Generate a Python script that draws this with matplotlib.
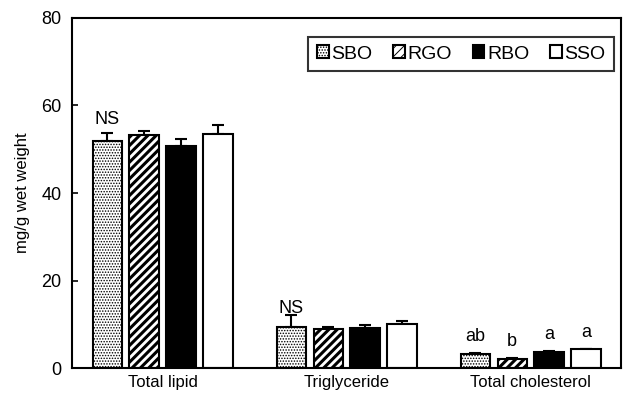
import numpy as np
import matplotlib.pyplot as plt

plt.rcParams['font.family'] = ['Liberation Sans', 'DejaVu Sans']

categories = ['Total lipid', 'Triglyceride', 'Total cholesterol']
groups = ['SBO', 'RGO', 'RBO', 'SSO']
means = {
    'SBO': [51.9, 9.4, 3.2],
    'RGO': [53.3, 8.9, 2.1],
    'RBO': [50.7, 9.1, 3.7],
    'SSO': [53.5, 10.1, 4.3],
}
errs = {
    'SBO': [1.7, 2.7, 0.3],
    'RGO': [0.9, 0.5, 0.2],
    'RBO': [1.6, 0.7, 0.3],
    'SSO': [2.0, 0.6, 0.2],
}
# significance letters above each bar
letters = {
    'SBO': ['NS', 'NS', 'ab'],
    'RGO': ['', '', 'b'],
    'RBO': ['', '', 'a'],
    'SSO': ['', '', 'a'],
}
letter_gap = [1.3, -0.3, 1.8]

styles = {
    'SBO': dict(color='white', hatch='......'),
    'RGO': dict(color='white', hatch='////'),
    'RBO': dict(color='black', hatch=None),
    'SSO': dict(color='white', hatch=None),
}

fig = plt.figure(figsize=(6.24, 3.96), dpi=100)
ax = fig.add_axes([0.116, 0.07, 0.879, 0.885])

x = np.arange(len(categories))
offsets = [-0.3, -0.1, 0.1, 0.3]
w = 0.16

for g, off in zip(groups, offsets):
    st = styles[g]
    plt.rcParams['hatch.linewidth'] = 2.2 if g == 'RGO' else 0.7
    ax.bar(x + off, means[g], w, color=st['color'], edgecolor='black',
           linewidth=1.5, hatch=st['hatch'], label=g, zorder=2)
    ax.errorbar(x + off, means[g], yerr=[np.zeros(3), errs[g]], fmt='none',
                ecolor='black', elinewidth=1.5, capsize=4, capthick=1.5, zorder=1)
    for i, (xi, m, e, t) in enumerate(zip(x + off, means[g], errs[g], letters[g])):
        if t:
            ax.text(xi, m + e + letter_gap[i], t, ha='center', va='bottom',
                    fontsize=13, zorder=3)

ax.set_xlim(-0.49, 2.49)
ax.set_ylim(0, 80)
ax.set_yticks([0, 20, 40, 60, 80])
ax.set_xticks(x)
ax.set_xticklabels(categories, fontsize=12)
ax.tick_params(axis='y', direction='in', length=4, width=1.2, labelsize=13, pad=8)
ax.tick_params(axis='x', length=0, pad=5)
ax.set_ylabel('mg/g wet weight', fontsize=12, labelpad=8)
for s in ax.spines.values():
    s.set_linewidth(1.5)

leg = ax.legend(loc='upper right', ncol=4, fontsize=14, frameon=True, fancybox=False,
                edgecolor='black', handlelength=0.6, handleheight=0.6, handletextpad=0.15,
                columnspacing=1.05, borderpad=0.45, borderaxespad=0,
                bbox_to_anchor=(0.988, 0.946))
leg.get_frame().set_linewidth(1.5)

fig.savefig('out.png', dpi=100)
